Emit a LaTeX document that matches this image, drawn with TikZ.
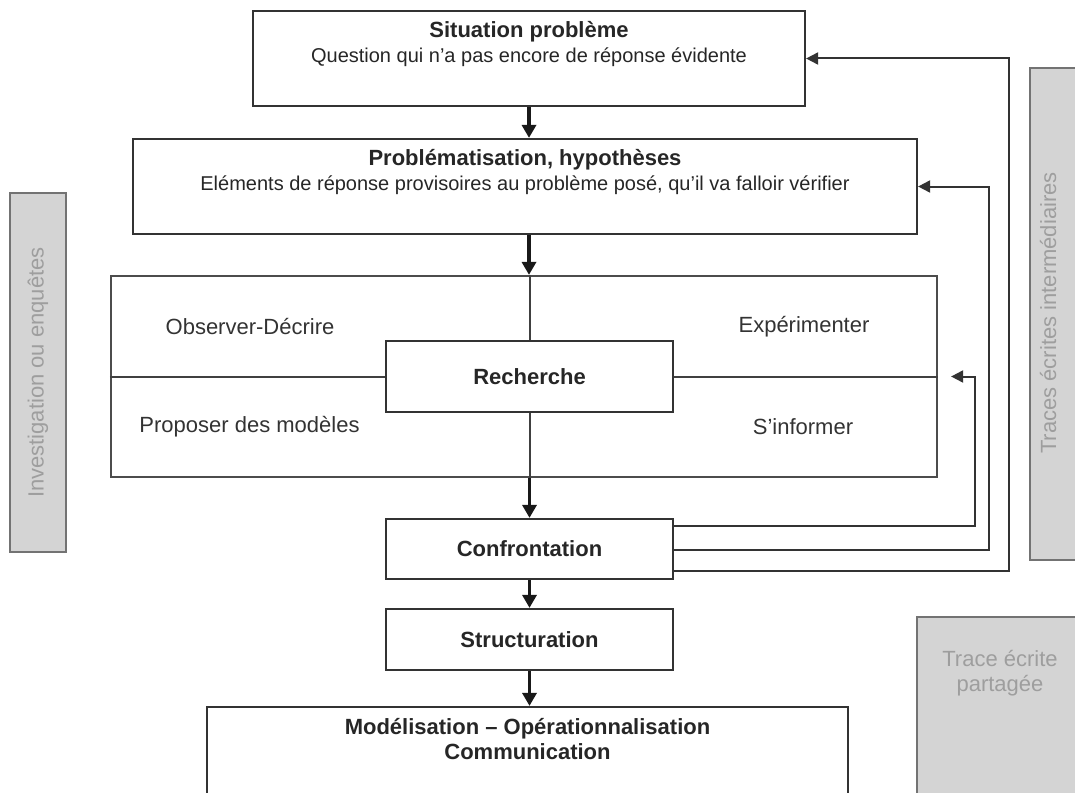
\documentclass[tikz,border=0pt]{standalone}
\usepackage{fontspec}
\setmainfont{Liberation Sans}
\usetikzlibrary{arrows.meta}

\newcommand{\txtgrand}{\fontsize{22}{25}\selectfont}
\newcommand{\txtpetit}{\fontsize{20}{25}\selectfont}

\tikzset{
  boite/.style={draw=black!80, line width=2.2pt, rectangle, inner sep=0pt, align=center, text=black!85},
  grise/.style={draw=black!55, fill=black!17, line width=2.2pt, rectangle, inner sep=0pt},
  gristexte/.style={text=black!38, align=center},
  trait/.style={draw=black!75, line width=2pt},
  fleche/.style={-{Triangle[length=13pt,width=14pt]}, line width=3.6pt, draw=black!90},
  retour/.style={-{Triangle[length=12pt,width=12pt]}, line width=2pt, draw=black!80},
}

\begin{document}
\begin{tikzpicture}[x=1pt,y=-1pt,font=\txtgrand]
\useasboundingbox (0,0) rectangle (1075,792);
\clip (0,0) rectangle (1075,792);
%\draw[help lines,step=50] (0,0) grid (1075,792);

% grey side boxes
\node[grise, rotate=90, minimum width=359, minimum height=56, gristexte] (investig) at (38,372.5) {Investigation ou enquêtes};
\node[grise, minimum width=80, minimum height=492] (traces) at (1070,314) {};
\node[gristexte, rotate=90] (tracestxt) at (1048,313) {Traces écrites intermédiaires};
\node[grise, minimum width=200, minimum height=220] (partagee) at (1017,727) {};
\node[gristexte] (partageetxt) at (1000,673.5) {Trace écrite\\partagée};

% main column
\node[boite, minimum width=552, minimum height=95] (sit) at (529,58.5)
  {\textbf{Situation problème}\\{\txtpetit Question qui n'a pas encore de réponse évidente}\\ \strut};
\node[boite, minimum width=784, minimum height=95] (prob) at (525,186.5)
  {\textbf{Problématisation, hypothèses}\\{\txtpetit Eléments de réponse provisoires au problème posé, qu'il va falloir vérifier}\\ \strut};

\node[boite, draw=black!70, minimum width=826, minimum height=201] (cadre) at (524,376.5) {};
\node[boite, minimum width=287, minimum height=71] (rech) at (529.5,376.5) {\textbf{Recherche}};
\node[text=black!80] (observer) at (250,327) {Observer-Décrire};
\node[text=black!80] (experimenter) at (804,327) {Expérimenter};
\node[text=black!80] (proposer) at (249.5,427) {Proposer des modèles};
\node[text=black!80] (informer) at (803,427) {S'informer};

\node[boite, minimum width=287, minimum height=60] (conf) at (529.5,549) {\textbf{Confrontation}};
\node[boite, minimum width=287, minimum height=61] (struct) at (529.5,639.5) {\textbf{Structuration}};
\node[boite, minimum width=641, minimum height=121] (model) at (527.5,767.5)
  {\textbf{Modélisation -- Opérationnalisation}\\\textbf{Communication}\\ \strut\\ \strut};

% cross inside the research frame
\draw[trait] (cadre.north -| rech.north) -- (rech.north);
\draw[trait] (rech.south) -- (rech.south |- cadre.south);
\draw[trait] (cadre.west) -- (rech.west);
\draw[trait] (rech.east) -- (cadre.east);

% vertical arrows
\draw[fleche] (sit.south) -- (sit.south |- prob.north);
\draw[fleche] (prob.south -| sit.south) -- (sit.south |- cadre.north);
\draw[fleche] (rech.south |- cadre.south) -- (conf.north);
\draw[fleche] (conf.south) -- (struct.north);
\draw[fleche] (struct.south) -- (struct.south |- model.north);

% feedback loops
\draw[retour] ([yshift=-8pt]conf.north east) -| ([xshift=37pt]cadre.east) -- ([xshift=13pt]cadre.east);
\draw[retour] ([yshift=-32pt]conf.north east) -| ([xshift=71pt]prob.east) -- (prob.east);
\draw[retour] ([yshift=-53pt]conf.north east) -| ([xshift=203pt]sit.east) -- (sit.east);
\end{tikzpicture}
\end{document}
